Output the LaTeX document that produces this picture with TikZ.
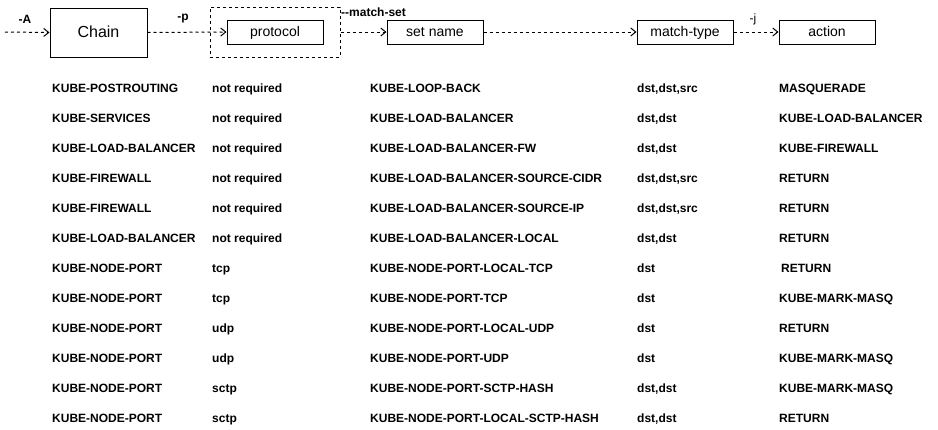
\documentclass[tikz,border=0pt]{standalone}
\usepackage{fontspec}
\setmainfont{Liberation Sans}
\usetikzlibrary{arrows.meta}
\begin{document}
\begin{tikzpicture}[x=1pt,y=-1pt,
  box/.style={draw,line width=1pt,minimum width=96pt,minimum height=24pt,inner sep=0pt,text height=10pt,text depth=2pt,font=\fontsize{14}{16}\selectfont},
  bigbox/.style={draw,line width=1pt,minimum width=97pt,minimum height=49pt,inner sep=0pt,text height=11.5pt,text depth=1pt,font=\fontsize{16}{18}\selectfont},
  grp/.style={draw,line width=1pt,dash pattern=on 3pt off 3pt,minimum width=130pt,minimum height=50pt,inner sep=0pt},
  flow/.style={line width=1pt,dash pattern=on 3pt off 3pt,-{Straight Barb[length=5pt,width=8pt,line width=1pt]}},
  lbl/.style={inner sep=0pt,font=\fontsize{12}{14}\selectfont\bfseries},
  cell/.style={anchor=west,inner sep=0pt,text height=8.6pt,text depth=0pt,font=\fontsize{12}{14}\selectfont\bfseries}]
\useasboundingbox[fill=white] (0,0) rectangle (938,429);

\node[bigbox] (chain) at (98.5,32.5) {Chain};
\node[grp] (grp) at (275,32) {};
\node[box] (proto) at (275,32) {protocol};
\node[box] (setname) at (435,32) {set name};
\node[box] (mtype) at (685,32) {match-type};
\node[box] (action) at (827,32) {action};
\coordinate (start) at (5,32);

\draw[flow] (start) -- (chain.west);
\draw[flow] (chain.east) -- (proto.west);
\draw[flow] (grp.east) -- (setname.west);
\draw[flow] (setname.east) -- (mtype.west);
\draw[flow] (mtype.east) -- (action.west);

\node[lbl] (lA) at (25,19) {-A};
\node[lbl] (lp) at (183,19) {-p};
\node[lbl,anchor=west] (lm) at (341,12) {-{}-match-set};
\node[lbl,font=\fontsize{12}{14}\selectfont] (lj) at (753,19) {-j};

\foreach \a/\b/\c/\d/\e [count=\i from 0] in {
  KUBE-POSTROUTING/not required/KUBE-LOOP-BACK/{dst,dst,src}/MASQUERADE,
  KUBE-SERVICES/not required/KUBE-LOAD-BALANCER/{dst,dst}/KUBE-LOAD-BALANCER,
  KUBE-LOAD-BALANCER/not required/KUBE-LOAD-BALANCER-FW/{dst,dst}/KUBE-FIREWALL,
  KUBE-FIREWALL/not required/KUBE-LOAD-BALANCER-SOURCE-CIDR/{dst,dst,src}/RETURN,
  KUBE-FIREWALL/not required/KUBE-LOAD-BALANCER-SOURCE-IP/{dst,dst,src}/RETURN,
  KUBE-LOAD-BALANCER/not required/KUBE-LOAD-BALANCER-LOCAL/{dst,dst}/RETURN,
  KUBE-NODE-PORT/tcp/KUBE-NODE-PORT-LOCAL-TCP/dst/{\hspace{2pt}RETURN},
  KUBE-NODE-PORT/tcp/KUBE-NODE-PORT-TCP/dst/KUBE-MARK-MASQ,
  KUBE-NODE-PORT/udp/KUBE-NODE-PORT-LOCAL-UDP/dst/RETURN,
  KUBE-NODE-PORT/udp/KUBE-NODE-PORT-UDP/dst/KUBE-MARK-MASQ,
  KUBE-NODE-PORT/sctp/KUBE-NODE-PORT-SCTP-HASH/{dst,dst}/KUBE-MARK-MASQ,
  KUBE-NODE-PORT/sctp/KUBE-NODE-PORT-LOCAL-SCTP-HASH/{dst,dst}/RETURN}{
  \pgfmathsetmacro{\yy}{88+30*\i}
  \node[cell] (chain\i) at (52,\yy) {\a};
  \node[cell] (proto\i) at (212,\yy) {\b};
  \node[cell] (set\i) at (370,\yy) {\c};
  \node[cell] (type\i) at (637,\yy) {\d};
  \node[cell] (act\i) at (779,\yy) {\e};
}
\end{tikzpicture}
\end{document}
